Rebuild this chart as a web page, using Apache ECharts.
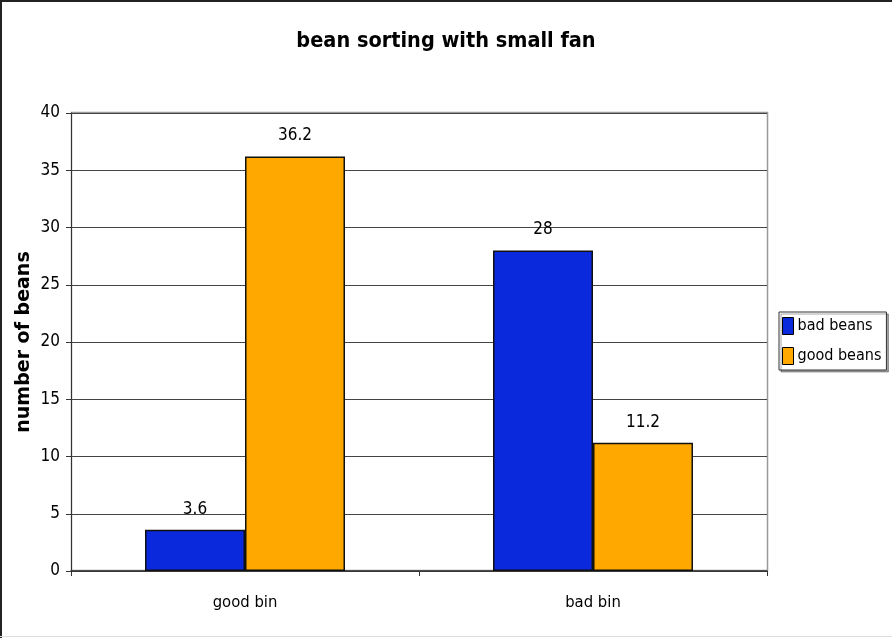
<!DOCTYPE html>
<html><head><meta charset="utf-8">
<script src="https://cdn.jsdelivr.net/npm/echarts@6/dist/echarts.min.js"></script>
<style>html,body{margin:0;padding:0;background:#fff}#c{width:892px;height:638px}</style>
</head><body><div id="c"></div>
<script>
var categories = ['good bin', 'bad bin'];
var badBeans = [3.6, 28];
var goodBeans = [36.2, 11.2];
var seriesNames = ['bad beans', 'good beans'];

var FONT = '"DejaVu Sans Condensed", "Liberation Sans Narrow", "DejaVu Sans", sans-serif';
var chart = echarts.init(document.getElementById('c'));
var labelStyle = {show: true, position: 'top', color: '#000', fontFamily: FONT, fontSize: 17, distance: 12};
chart.setOption({
  animation: false,
  backgroundColor: '#fff',
  title: {
    text: 'bean sorting with small fan', left: 'center', top: 25,
    textStyle: {fontFamily: FONT, fontWeight: 'bold', fontSize: 21.5, color: '#000'}
  },
  graphic: [
    {type: 'line', shape: {x1: 0, y1: 1, x2: 892, y2: 1}, style: {stroke: '#222', lineWidth: 2}},
    {type: 'line', shape: {x1: 1, y1: 0, x2: 1, y2: 638}, style: {stroke: '#222', lineWidth: 2}},
    {type: 'line', shape: {x1: 0, y1: 636.5, x2: 892, y2: 636.5}, style: {stroke: '#ddd', lineWidth: 1}},
    {type: 'rect', shape: {x: 71.5, y: 112.5, width: 696, height: 458}, style: {fill: null, stroke: '#999', lineWidth: 1.5}, z: -1}
  ],
  legend: {
    orient: 'vertical', left: 779, top: 312,
    data: seriesNames,
    icon: 'rect',
    itemWidth: 11, itemHeight: 17, itemGap: 12,
    padding: [5, 5, 5, 3],
    borderColor: '#333', borderWidth: 1,
    shadowColor: 'rgba(0,0,0,0.35)', shadowOffsetX: 2, shadowOffsetY: 2, shadowBlur: 0,
    backgroundColor: '#fff',
    textStyle: {fontFamily: FONT, fontSize: 16, color: '#000', padding: [0, 0, 0, -1]},
    itemStyle: {borderColor: '#000', borderWidth: 1}
  },
  grid: {left: 71, top: 113, right: 125, bottom: 67},
  xAxis: {
    type: 'category', data: categories,
    axisLine: {lineStyle: {color: '#333', width: 1.5}},
    axisTick: {show: true, alignWithLabel: false, length: 5, lineStyle: {color: '#333'}},
    axisLabel: {fontFamily: FONT, fontSize: 16.5, color: '#000', margin: 23}
  },
  yAxis: {
    type: 'value', min: 0, max: 40, interval: 5,
    name: 'number of beans', nameLocation: 'middle', nameGap: 37, nameRotate: 90,
    nameMoveOverlap: false,
    nameTextStyle: {fontFamily: '"DejaVu Sans", Verdana, sans-serif', fontWeight: 'bold', fontSize: 19, color: '#000'},
    axisLine: {show: true, lineStyle: {color: '#333', width: 1}},
    axisTick: {show: true, length: 5, lineStyle: {color: '#333'}},
    axisLabel: {fontFamily: FONT, fontSize: 17, color: '#000', margin: 11},
    splitLine: {lineStyle: {color: '#444', width: 1}}
  },
  series: [
    {name: seriesNames[0], type: 'bar', data: badBeans, barWidth: 100, barGap: '0%',
     itemStyle: {color: '#0A28DC', borderColor: '#111', borderWidth: 1.5}, label: labelStyle},
    {name: seriesNames[1], type: 'bar', data: goodBeans, barWidth: 100, barGap: '0%',
     itemStyle: {color: '#FFA800', borderColor: '#111', borderWidth: 1.5}, label: labelStyle}
  ]
});
</script></body></html>
